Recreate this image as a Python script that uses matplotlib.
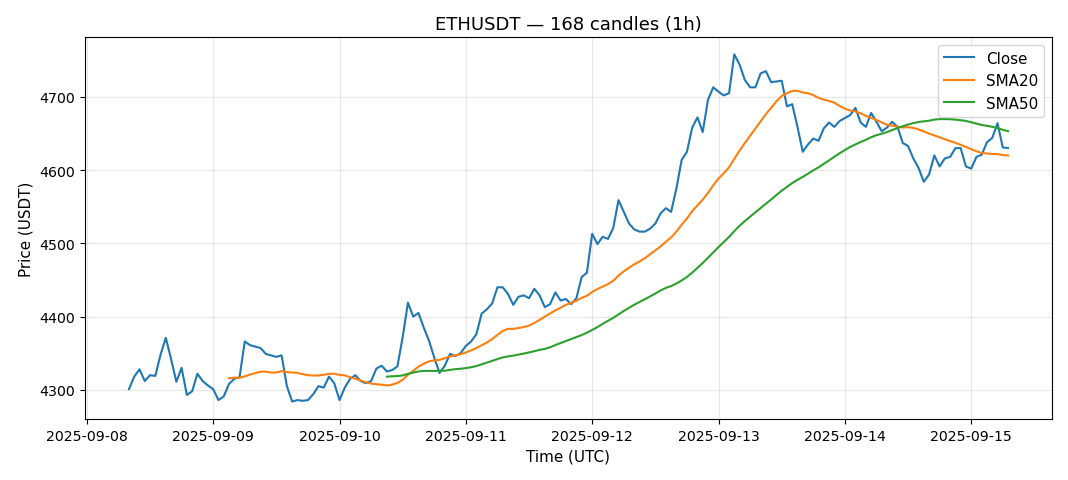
import matplotlib
matplotlib.use("Agg")
import matplotlib.pyplot as plt
import matplotlib.dates as mdates
import numpy as np
import pandas as pd

start_time = "2025-09-08 08:00"
n_candles = 168
close = [
    4301, 4318, 4328, 4312, 4320, 4319, 4348, 4371, 4342, 4311,
    4330, 4293, 4298, 4322, 4312, 4306, 4301, 4286, 4291, 4308,
    4315, 4317, 4366, 4361, 4359, 4357, 4349, 4347, 4345, 4347,
    4305, 4284, 4286, 4285, 4286, 4294, 4305, 4303, 4318, 4309,
    4286, 4303, 4315, 4320, 4312, 4309, 4312, 4329, 4333, 4325,
    4327, 4332, 4372, 4419, 4400, 4405, 4385, 4367, 4344, 4323,
    4333, 4349, 4346, 4350, 4360, 4366, 4376, 4404, 4410, 4418,
    4440, 4440, 4431, 4416, 4427, 4429, 4425, 4438, 4429, 4413,
    4417, 4433, 4422, 4424, 4417, 4425, 4454, 4460, 4513, 4499,
    4509, 4506, 4521, 4559, 4543, 4527, 4519, 4516, 4516, 4520,
    4527, 4541, 4548, 4543, 4575, 4614, 4625, 4658, 4672, 4652,
    4696, 4713, 4707, 4702, 4705, 4758, 4744, 4723, 4713, 4713,
    4732, 4735, 4720, 4721, 4722, 4687, 4690, 4659, 4625, 4635,
    4643, 4640, 4657, 4665, 4659, 4667, 4671, 4675, 4685, 4665,
    4659, 4678, 4666, 4653, 4658, 4666, 4659, 4637, 4633, 4616,
    4603, 4584, 4594, 4620, 4605, 4616, 4618, 4630, 4630, 4605,
    4602, 4618, 4621, 4638, 4644, 4664, 4631, 4630,
]

times = pd.date_range(start_time, periods=n_candles, freq="h")
s = pd.Series(close, index=times)
sma20 = s.rolling(20).mean()
sma50 = s.rolling(50).mean()

fig = plt.figure(figsize=(10.68, 4.81), dpi=100)
ax = fig.add_axes([0.0796, 0.127, 0.9054, 0.794])
ax.plot(times, s.values, label="Close", color="#1f77b4", lw=1.5)
ax.plot(times, sma20.values, label="SMA20", color="#ff7f0e", lw=1.5)
ax.plot(times, sma50.values, label="SMA50", color="#2ca02c", lw=1.5)
ax.set_title("ETHUSDT — 168 candles (1h)", fontsize=13)
ax.set_xlabel("Time (UTC)", fontsize=10.9)
ax.set_ylabel("Price (USDT)", fontsize=10.9)
ax.tick_params(labelsize=10.2)
ax.grid(True, alpha=0.3)
ax.xaxis.set_major_locator(mdates.DayLocator())
ax.xaxis.set_major_formatter(mdates.DateFormatter("%Y-%m-%d"))
ax.legend(loc="upper right", fontsize=10.9)
fig.savefig("out.png", dpi=100)
